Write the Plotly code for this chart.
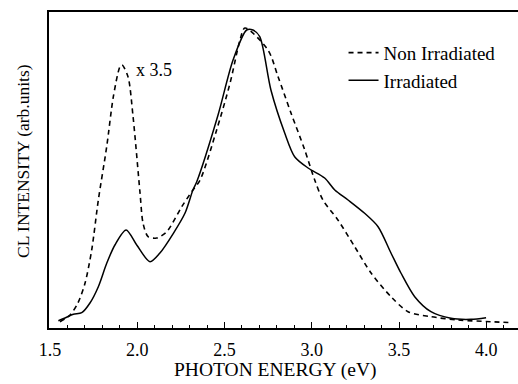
import plotly.graph_objects as go

# Photon energy (eV) and CL intensity (arb. units)
irr_energy = [1.548, 1.586, 1.634, 1.682, 1.729, 1.777, 1.825, 1.872, 1.936, 1.997,
              2.073, 2.130, 2.207, 2.274, 2.319, 2.341, 2.463, 2.549, 2.627, 2.663,
              2.702, 2.766, 2.845, 2.902, 2.979, 3.074, 3.132, 3.208, 3.303, 3.380,
              3.454, 3.511, 3.590, 3.683, 3.798, 3.913, 3.999]
irr_intensity = [7.3, 10, 13.7, 15.3, 25, 41.3, 64.7, 83, 98, 83,
                 66.3, 75, 94.7, 115, 138, 146.3, 213, 268, 298, 298,
                 291.3, 238, 195, 171.3, 160, 150, 138, 128, 114.7, 101.3,
                 75, 55, 31.3, 16.3, 9.7, 8.7, 10.3]

non_energy = [1.557, 1.615, 1.660, 1.701, 1.739, 1.777, 1.825, 1.863, 1.901, 1.913,
              1.947, 1.976, 2.016, 2.033, 2.062, 2.111, 2.169, 2.255, 2.312, 2.360,
              2.455, 2.532, 2.589, 2.617, 2.749, 2.807, 2.881, 2.960, 3.017, 3.064,
              3.150, 3.246, 3.340, 3.454, 3.552, 3.683, 3.838, 4.027, 4.142]
non_intensity = [6.3, 13, 25, 45, 78, 128, 181.3, 231.3, 261.3, 263,
                 251.3, 211.3, 135, 105, 91.3, 90, 96.3, 121.3, 136.3, 148,
                 198, 245, 288, 300, 278, 251.3, 215, 178, 148, 128,
                 108, 81.3, 55, 31.3, 16.3, 11.3, 8, 6.3, 5.3]

x_tickvals = [1.5, 2.0, 2.5, 3.0, 3.5, 4.0]
x_ticktext = ["1.5", "2.0", "2.5", "3.0", "3.5", "4.0"]

FONT = "Liberation Serif"
L, R, T, B, W, H = 49, 0, 12, 56, 518, 384
pw, ph = W - L - R, H - T - B

fig = go.Figure()
fig.add_trace(go.Scatter(
    x=non_energy, y=non_intensity, mode="lines", name="Non Irradiated",
    line=dict(color="black", width=1.6, dash="5px,4px", shape="spline", smoothing=0.8),
))
fig.add_trace(go.Scatter(
    x=irr_energy, y=irr_intensity, mode="lines", name="Irradiated",
    line=dict(color="black", width=1.5, shape="spline", smoothing=0.8),
))

fig.add_annotation(
    x=1.979, y=258, xref="x", yref="y", text="x 3.5", showarrow=False,
    xanchor="left", yanchor="middle", font=dict(family=FONT, size=18, color="black"),
)
fig.add_annotation(
    x=(275 - L) / pw, y=(H - B - 370) / ph, xref="paper", yref="paper",
    text="PHOTON ENERGY (eV)", showarrow=False, xanchor="center", yanchor="middle",
    font=dict(family=FONT, size=19.5, color="black"),
)
fig.add_annotation(
    x=(23 - L) / pw, y=(H - B - 161) / ph, xref="paper", yref="paper",
    text="CL INTENSITY (arb.units)", showarrow=False, textangle=-90,
    xanchor="center", yanchor="middle",
    font=dict(family=FONT, size=17.5, color="black"),
)

fig.update_layout(
    width=W, height=H,
    margin=dict(l=L, r=R, t=T, b=B, autoexpand=False),
    paper_bgcolor="white", plot_bgcolor="white",
    font=dict(family=FONT, color="black"),
    showlegend=True,
    legend=dict(
        x=0.628, y=0.931, xanchor="left", yanchor="top",
        bgcolor="rgba(0,0,0,0)", font=dict(family=FONT, size=19, color="black"),
        itemwidth=30, tracegroupgap=0,
    ),
    xaxis=dict(
        range=[1.4943, 4.1819], showgrid=False, zeroline=False, automargin=False,
        showline=True, linecolor="black", linewidth=2, mirror=True,
        ticks="inside", ticklen=6, tickwidth=1.2, tickcolor="black",
        tickvals=x_tickvals, ticktext=x_ticktext,
        tickfont=dict(family=FONT, size=18, color="black"),
        ticklabelstandoff=4,
        minor=dict(ticks="inside", ticklen=3, tickwidth=1.2, tickcolor="black", dtick=0.1, tick0=1.5, showgrid=False),
    ),
    yaxis=dict(
        range=[0, 316], showgrid=False, zeroline=False, automargin=False,
        showline=True, linecolor="black", linewidth=2, mirror=False,
        ticks="", showticklabels=False,
    ),
)

fig.write_html(
    "out.html",
    config={"displayModeBar": False},
    post_script="document.body.style.margin='0';document.body.style.overflow='hidden';",
)
